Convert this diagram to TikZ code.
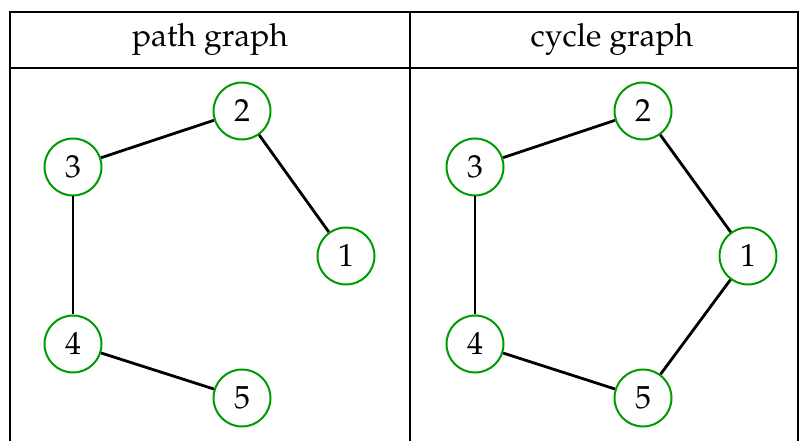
\documentclass[tikz,border=0pt]{standalone}
\usepackage[T1]{fontenc}
\usepackage{mathpazo}
\definecolor{nodegreen}{RGB}{0,155,0}
\begin{document}
\begin{tikzpicture}[x=1bp,y=-1bp,
  vert/.style={circle,draw=nodegreen,line width=2bp,minimum size=57bp,inner sep=0pt,font=\fontsize{32}{38}\selectfont},
  edge/.style={line width=2.8bp,black},
  rule/.style={line width=2.2bp,black},
  head/.style={font=\fontsize{32}{38}\selectfont}]
\useasboundingbox (0,0) rectangle (800,441);
% table
\draw[rule] (10,441) -- (10,12) -- (798,12) -- (798,441);
\draw[rule] (10,68) -- (798,68);
\draw[rule] (410,12) -- (410,441);
\node[head] (h1) at (210,39) {path graph};
\node[head] (h2) at (612,39) {cycle graph};
% path graph
\node[vert] (a2) at (242,111) {2};
\node[vert] (a3) at (73,167) {3};
\node[vert] (a1) at (346,256) {1};
\node[vert] (a4) at (73,344) {4};
\node[vert] (a5) at (242,398) {5};
\draw[edge] (a2) -- (a3);
\draw[edge] (a2) -- (a1);
\draw[edge] (a3) -- (a4);
\draw[edge] (a4) -- (a5);
% cycle graph
\node[vert] (b2) at (643,111) {2};
\node[vert] (b3) at (475,167) {3};
\node[vert] (b1) at (748,256) {1};
\node[vert] (b4) at (475,344) {4};
\node[vert] (b5) at (643,398) {5};
\draw[edge] (b2) -- (b3);
\draw[edge] (b2) -- (b1);
\draw[edge] (b3) -- (b4);
\draw[edge] (b4) -- (b5);
\draw[edge] (b5) -- (b1);
\end{tikzpicture}
\end{document}
